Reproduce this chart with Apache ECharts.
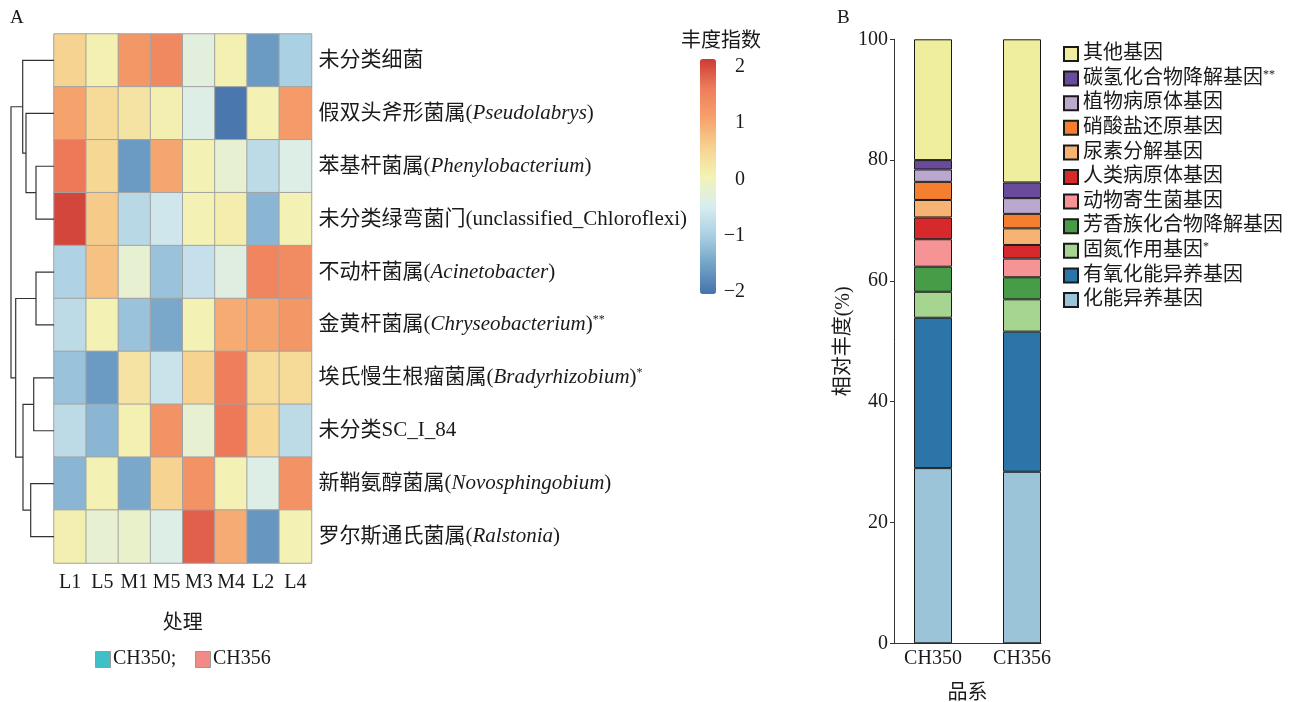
<!DOCTYPE html>
<html><head><meta charset="utf-8">
<script src="https://cdn.jsdelivr.net/npm/echarts@6/dist/echarts.min.js"></script>
<style>html,body{margin:0;padding:0;background:#fff}#c{width:1297px;height:702px}</style>
</head><body><div id="c"></div>
<script>
// ---- Panel A: heatmap ----
const cols = ['L1','L5','M1','M5','M3','M4','L2','L4'];
const rowCN = ['未分类细菌','假双头斧形菌属','苯基杆菌属','未分类绿弯菌门','不动杆菌属','金黄杆菌属','埃氏慢生根瘤菌属','未分类SC_I_84','新鞘氨醇菌属','罗尔斯通氏菌属'];
const rowLatin = ['','Pseudolabrys','Phenylobacterium','unclassified_Chloroflexi','Acinetobacter','Chryseobacterium','Bradyrhizobium','','Novosphingobium','Ralstonia'];
const rowItalic = [false,true,true,false,true,true,true,false,true,true];
const rowSig = ['','','','','','**','*','','',''];
const heat = [
  [0.55, 0.1, 1.25, 1.45, -0.3, 0.1, -1.6, -1.0],
  [1.1, 0.45, 0.3, 0.12, -0.4, -2.0, 0.08, 1.2],
  [1.65, 0.5, -1.6, 1.05, 0.07, -0.2, -0.8, -0.4],
  [2.05, 0.65, -0.85, -0.6, 0.07, 0.15, -1.3, 0.07],
  [-0.95, 0.75, -0.2, -1.15, -0.7, -0.35, 1.5, 1.4],
  [-0.8, 0.07, -1.15, -1.45, 0.07, 1.0, 1.05, 1.25],
  [-1.15, -1.6, 0.3, -0.65, 0.55, 1.6, 0.45, 0.45],
  [-0.8, -1.3, 0.1, 1.3, -0.2, 1.65, 0.5, -0.8],
  [-1.3, 0.08, -1.45, 0.55, 1.3, 0.08, -0.4, 1.3],
  [0.12, -0.2, -0.15, -0.4, 1.85, 1.0, -1.65, 0.07]
];
// dendrogram merges: [childA, childB, height]; leaves 0..9, merge k has id 10+k
const merges = [
  [2, 3, 18], [1, 10, 28], [0, 11, 31.3],
  [4, 5, 18], [6, 7, 20.3], [8, 9, 23.3],
  [14, 15, 31], [13, 16, 38.3], [12, 17, 43]
];
const colorTicks = [-2, -1, 0, 1, 2];
const scaleMin = -2.04, scaleMax = 2.14;

// ---- Panel B: stacked bars ----
const cultivars = ['CH350', 'CH356'];
const genes = ['化能异养基因','有氧化能异养基因','固氮作用基因','芳香族化合物降解基因','动物寄生菌基因','人类病原体基因','尿素分解基因','硝酸盐还原基因','植物病原体基因','碳氢化合物降解基因','其他基因'];
const geneSig = ['','','*','','','','','','','**',''];
const ch350 = [29.0, 24.9, 4.3, 4.15, 4.55, 3.6, 2.9, 3.0, 2.05, 1.55, 20.0];
const ch356 = [28.4, 23.2, 5.35, 3.65, 3.1, 2.25, 2.75, 2.4, 2.6, 2.6, 23.7];
const geneColors = ['#9bc4d8','#2b75a9','#a6d591','#479d47','#f59395','#d7292c','#f7b373','#f47f2f','#bba8cf','#6a4a9a','#eeee9c'];

const FF = "'Liberation Serif','Noto Sans CJK SC',serif";
const TXT = '#1a1a1a';

// build dendrogram segments
const nodeY = [], nodeH = [];
for (let i = 0; i < rowCN.length; i++) { nodeY[i] = i; nodeH[i] = 0; }
const segs = [];
merges.forEach((m, k) => {
  const id = rowCN.length + k;
  const [a, b, h] = m;
  nodeY[id] = (nodeY[a] + nodeY[b]) / 2;
  nodeH[id] = h;
  segs.push({coords: [[nodeH[a], nodeY[a]], [h, nodeY[a]], [h, nodeY[b]], [nodeH[b], nodeY[b]]]});
});

const heatData = [];
heat.forEach((r, ri) => r.forEach((v, ci) => heatData.push([ci, ri, v])));

const barSeries = genes.map((g, i) => ({
  type: 'bar', name: g, stack: 'total', xAxisIndex: 3, yAxisIndex: 3,
  barWidth: 38,
  itemStyle: {color: geneColors[i], borderColor: '#1a1a1a', borderWidth: 1},
  data: [ch350[i], ch356[i]]
}));

const OB = {outerBoundsMode: 'none', containLabel: false};
const chart = echarts.init(document.getElementById('c'), null, {renderer: 'canvas'});
chart.setOption({
  backgroundColor: '#fff',
  animation: false,
  textStyle: {fontFamily: FF, color: TXT},
  grid: [
    Object.assign({left: 54, top: 34, width: 257.5, height: 529}, OB),
    Object.assign({left: 0, top: 34, width: 54, height: 529}, OB),
    Object.assign({left: 700, top: 59, width: 16, height: 235}, OB),
    Object.assign({left: 888.5, top: 39.3, width: 178, height: 604}, OB),
    Object.assign({left: 894, top: 39.3, width: 147, height: 604}, OB)
  ],
  xAxis: [
    {type: 'category', gridIndex: 0, data: cols, position: 'bottom',
     axisLine: {show: false}, axisTick: {show: false},
     axisLabel: {interval: 0, fontSize: 20, fontFamily: FF, color: TXT, margin: 10},
     name: '处理', nameLocation: 'middle', nameGap: 51,
     nameTextStyle: {fontSize: 20, fontFamily: FF, color: TXT}},
    {type: 'value', gridIndex: 1, min: 0, max: 54, inverse: true, show: false},
    {type: 'value', gridIndex: 2, min: 0, max: 1, show: false},
    {type: 'category', gridIndex: 3, data: cultivars,
     axisLine: {show: false}, axisTick: {show: false}, splitLine: {show: false},
     axisLabel: {interval: 0, fontSize: 20, fontFamily: FF, color: TXT, margin: 5}},
    {type: 'value', gridIndex: 4, min: 0, max: 1,
     axisLine: {show: true, lineStyle: {color: '#333', width: 1}},
     axisTick: {show: false}, splitLine: {show: false}, axisLabel: {show: false},
     name: '品系', nameLocation: 'middle', nameGap: 40,
     nameTextStyle: {fontSize: 20, fontFamily: FF, color: TXT}}
  ],
  yAxis: [
    {type: 'category', gridIndex: 0, data: rowCN, inverse: true, position: 'right',
     axisLine: {show: false}, axisTick: {show: false},
     axisLabel: {margin: 7, formatter: (v, i) => {
        let s = '{n|' + rowCN[i];
        if (rowLatin[i]) {
          if (rowItalic[i]) s += '(}{i|' + rowLatin[i] + '}{n|)';
          else s += '(' + rowLatin[i] + ')';
        }
        s += '}';
        if (rowSig[i]) s += '{s|' + rowSig[i] + '}';
        return s;
      },
      rich: {
        n: {fontSize: 21, fontFamily: FF, color: TXT, lineHeight: 22},
        i: {fontSize: 21, fontFamily: FF, fontStyle: 'italic', color: TXT, lineHeight: 22},
        s: {fontSize: 12, fontFamily: FF, color: TXT, verticalAlign: 'top', lineHeight: 12}
      }}},
    {type: 'value', gridIndex: 1, min: -0.5, max: 9.5, inverse: true, show: false},
    {type: 'value', gridIndex: 2, min: scaleMin, max: scaleMax, position: 'right',
     axisLine: {show: false}, axisTick: {show: false}, splitLine: {show: false},
     axisLabel: {customValues: colorTicks, formatter: v => String(v).replace('-', '\u2212'),
                 align: 'right', margin: 29, fontSize: 20, fontFamily: FF, color: TXT}},
    {type: 'value', gridIndex: 3, min: 0, max: 100, show: false},
    {type: 'value', gridIndex: 4, min: 0, max: 100, interval: 20,
     axisLine: {show: true, lineStyle: {color: '#333', width: 1}},
     axisTick: {show: true, length: 4, lineStyle: {color: '#333'}},
     splitLine: {show: false},
     axisLabel: {fontSize: 20, fontFamily: FF, color: TXT, margin: 6},
     name: '相对丰度(%)', nameLocation: 'middle', nameGap: 40, nameRotate: 90,
     nameTextStyle: {fontSize: 20, fontFamily: FF, color: TXT}}
  ],
  visualMap: {
    type: 'continuous', seriesIndex: 0, min: scaleMin, max: scaleMax,
    left: 700, top: 59, itemWidth: 16, itemHeight: 235, padding: 0,
    calculable: false, showLabel: false, text: null,
    inRange: {color: ['#4773ab','#72a2c7','#abd0e3','#d9edef','#f3f3b5','#f6d28f','#f5a26c','#ef7d5b','#cd3b36']}
  },
  legend: {
    orient: 'vertical', left: 1058, top: 39, itemWidth: 14, itemHeight: 14, itemGap: 4.6,
    icon: 'rect', data: genes.slice().reverse(),
    formatter: name => {
      const i = genes.indexOf(name);
      return '{n|' + name + '}' + (geneSig[i] ? '{s|' + geneSig[i] + '}' : '');
    },
    textStyle: {fontFamily: FF, color: TXT, fontSize: 20,
      rich: {n: {fontSize: 20, fontFamily: FF, color: TXT, lineHeight: 20},
             s: {fontSize: 12, fontFamily: FF, color: TXT, verticalAlign: 'top', lineHeight: 12}}}
  },
  graphic: [
    {type: 'text', left: 10, top: 9, style: {text: 'A', font: "19px 'Liberation Serif'", fill: TXT}},
    {type: 'text', left: 837, top: 9, style: {text: 'B', font: "19px 'Liberation Serif'", fill: TXT}},
    {type: 'text', left: 681, top: 29, style: {text: '丰度指数', font: "20px 'Noto Sans CJK SC'", fill: TXT}},
    {type: 'rect', left: 95, top: 651, shape: {width: 15, height: 16}, style: {fill: '#3ec0c6', stroke: '#999', lineWidth: 1}},
    {type: 'text', left: 113, top: 649, style: {text: 'CH350;', font: "20px 'Liberation Serif'", fill: TXT}},
    {type: 'rect', left: 195, top: 651, shape: {width: 15, height: 16}, style: {fill: '#f28b87', stroke: '#999', lineWidth: 1}},
    {type: 'text', left: 213, top: 649, style: {text: 'CH356', font: "20px 'Liberation Serif'", fill: TXT}}
  ],
  series: [
    {type: 'heatmap', xAxisIndex: 0, yAxisIndex: 0, data: heatData,
     itemStyle: {borderColor: '#a3a3a3', borderWidth: 1}, emphasis: {disabled: true}},
    {type: 'lines', coordinateSystem: 'cartesian2d', xAxisIndex: 1, yAxisIndex: 1,
     polyline: true, silent: true, data: segs,
     lineStyle: {color: '#333', width: 1.2, opacity: 1}}
  ].concat(barSeries)
});
</script></body></html>
